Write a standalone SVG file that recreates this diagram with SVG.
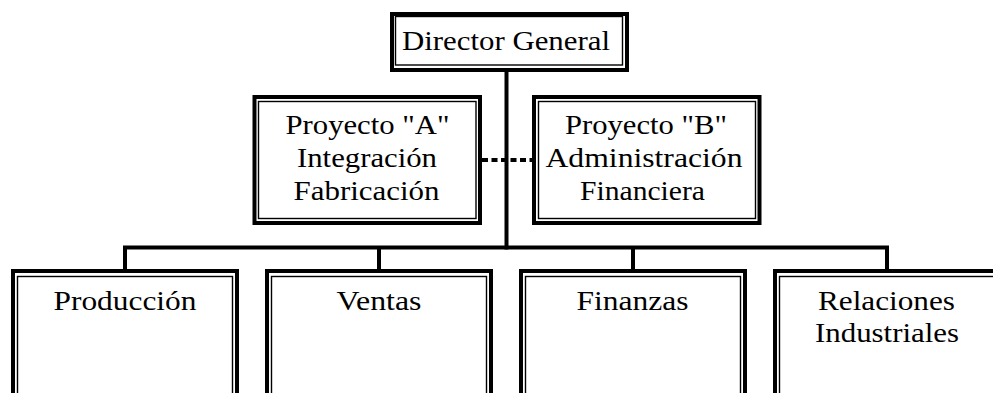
<svg xmlns="http://www.w3.org/2000/svg" width="993" height="393" viewBox="0 0 993 393">
  <style>
    .outer { fill: #ffffff; stroke: #000000; stroke-width: 4; }
    .inner { fill: none; stroke: #000000; stroke-width: 1.4; }
    .label { font-family: "Liberation Serif", "Times New Roman", serif; font-size: 27.5px; fill: #000000; text-anchor: middle; }
    .wire { fill: none; stroke: #000000; stroke-width: 4; }
    .dashed { fill: none; stroke: #000000; stroke-width: 4; stroke-dasharray: 6 3.5; }
  </style>

  <rect width="993" height="393" fill="#ffffff"/>

  <!-- connectors -->
  <g id="connectors">
    <line class="wire" x1="506.5" y1="70" x2="506.5" y2="249.5"/>
    <line class="wire" x1="123" y1="247.5" x2="889" y2="247.5"/>
    <line class="wire" x1="125" y1="247.5" x2="125" y2="270"/>
    <line class="wire" x1="379" y1="247.5" x2="379" y2="270"/>
    <line class="wire" x1="633" y1="247.5" x2="633" y2="270"/>
    <line class="wire" x1="887" y1="247.5" x2="887" y2="270"/>
    <line class="dashed" x1="482" y1="160" x2="532" y2="160"/>
  </g>

  <!-- top level -->
  <g id="director-general">
    <rect class="outer" x="392" y="14" width="235" height="56"/>
    <rect class="inner" x="395.5" y="16.5" width="227" height="48.5"/>
    <text class="label" x="506" y="50" textLength="208" lengthAdjust="spacingAndGlyphs">Director General</text>
  </g>

  <!-- project boxes -->
  <g id="proyecto-a">
    <rect class="outer" x="254.5" y="97" width="225.5" height="126"/>
    <rect class="inner" x="258.5" y="101.5" width="217.5" height="117"/>
    <text class="label" x="367.5" y="134" textLength="164" lengthAdjust="spacingAndGlyphs">Proyecto "A"</text>
    <text class="label" x="367" y="167" textLength="140" lengthAdjust="spacingAndGlyphs">Integración</text>
    <text class="label" x="366.5" y="200" textLength="146" lengthAdjust="spacingAndGlyphs">Fabricación</text>
  </g>

  <g id="proyecto-b">
    <rect class="outer" x="534" y="97" width="225.5" height="126"/>
    <rect class="inner" x="538.5" y="101.5" width="217" height="117"/>
    <text class="label" x="646" y="134" textLength="162" lengthAdjust="spacingAndGlyphs">Proyecto "B"</text>
    <text class="label" x="644" y="167" textLength="197" lengthAdjust="spacingAndGlyphs">Administración</text>
    <text class="label" x="642.5" y="200" textLength="125" lengthAdjust="spacingAndGlyphs">Financiera</text>
  </g>

  <!-- departments -->
  <g id="produccion">
    <rect class="outer" x="13" y="271" width="224" height="140"/>
    <rect class="inner" x="17.5" y="276.5" width="215" height="140"/>
    <text class="label" x="125" y="310" textLength="143" lengthAdjust="spacingAndGlyphs">Producción</text>
  </g>

  <g id="ventas">
    <rect class="outer" x="267" y="271" width="224" height="140"/>
    <rect class="inner" x="271.5" y="276.5" width="215" height="140"/>
    <text class="label" x="379" y="310" textLength="85" lengthAdjust="spacingAndGlyphs">Ventas</text>
  </g>

  <g id="finanzas">
    <rect class="outer" x="521" y="271" width="224" height="140"/>
    <rect class="inner" x="525.5" y="276.5" width="215" height="140"/>
    <text class="label" x="632.5" y="310" textLength="112" lengthAdjust="spacingAndGlyphs">Finanzas</text>
  </g>

  <g id="relaciones-industriales">
    <rect class="outer" x="775" y="271" width="224" height="140"/>
    <rect class="inner" x="779.5" y="276.5" width="215" height="140"/>
    <text class="label" x="886.5" y="310" textLength="137" lengthAdjust="spacingAndGlyphs">Relaciones</text>
    <text class="label" x="887" y="342" textLength="144" lengthAdjust="spacingAndGlyphs">Industriales</text>
  </g>
</svg>
